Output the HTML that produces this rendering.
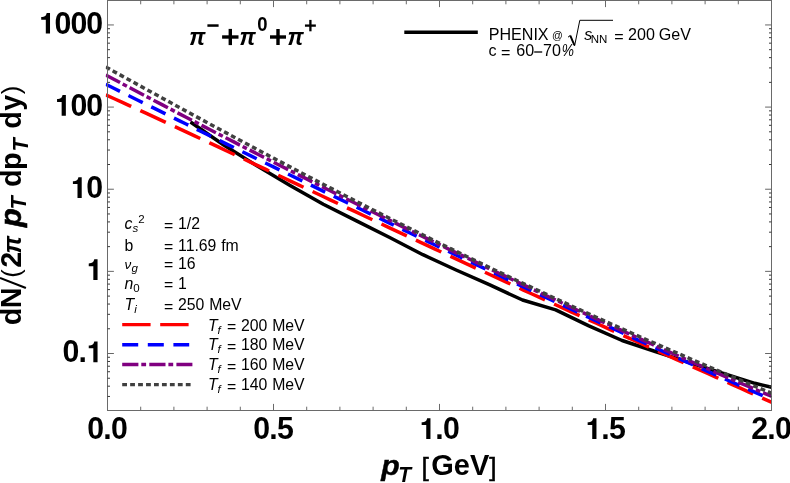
<!DOCTYPE html>
<html><head><meta charset="utf-8"><title>plot</title>
<style>html,body{margin:0;padding:0;background:#fff;}svg{display:block;will-change:transform;font-family:"Liberation Sans",sans-serif;}</style>
</head><body>
<svg width="790" height="483" viewBox="0 0 790 483">
<rect x="0" y="0" width="790" height="483" fill="#fff"/>
<defs><clipPath id="c"><rect x="105.75" y="0.5" width="666.25" height="410.0"/></clipPath></defs>
<g clip-path="url(#c)" fill="none" stroke-linejoin="round">
<path d="M190.5,122 L223.7,145 L256.9,165.8 L290.1,185.4 L323.3,204.2 L356.5,220.9 L389.7,237.5 L422.9,254.7 L456.1,270.0 L489.3,284.7 L522.5,300 L555.7,309.9 L588.9,325.8 L622.1,340.5 L655.3,351.5 L688.5,362.3 L721.7,373 L754.9,383.3 L771.5,387.3" stroke="#000" stroke-width="3.5"/>
<path d="M105.75,94.82 L113.78,98.47 L121.82,102.14 L129.85,105.82 L137.88,109.51 L145.92,113.21 L153.95,116.93 L161.98,120.65 L170.02,124.39 L178.05,128.13 L186.08,131.88 L194.11,135.64 L202.15,139.40 L210.18,143.17 L218.21,146.95 L226.25,150.73 L234.28,154.52 L242.31,158.30 L250.35,162.10 L258.38,165.89 L266.41,169.69 L274.45,173.48 L282.48,177.28 L290.51,181.08 L298.55,184.88 L306.58,188.68 L314.61,192.48 L322.64,196.28 L330.68,200.07 L338.71,203.87 L346.74,207.66 L354.78,211.45 L362.81,215.23 L370.84,219.02 L378.88,222.80 L386.91,226.57 L394.94,230.35 L402.98,234.11 L411.01,237.88 L419.04,241.64 L427.08,245.39 L435.11,249.14 L443.14,252.89 L451.17,256.62 L459.21,260.36 L467.24,264.09 L475.27,267.81 L483.31,271.53 L491.34,275.24 L499.37,278.95 L507.41,282.65 L515.44,286.35 L523.47,290.04 L531.51,293.72 L539.54,297.40 L547.57,301.08 L555.61,304.75 L563.64,308.41 L571.67,312.07 L579.70,315.72 L587.74,319.37 L595.77,323.02 L603.80,326.66 L611.84,330.30 L619.87,333.93 L627.90,337.56 L635.94,341.19 L643.97,344.81 L652.00,348.43 L660.04,352.05 L668.07,355.67 L676.10,359.28 L684.14,362.89 L692.17,366.51 L700.20,370.12 L708.23,373.73 L716.27,377.34 L724.30,380.96 L732.33,384.57 L740.37,388.19 L748.40,391.81 L756.43,395.43 L764.47,399.06 L772.50,402.69" stroke="#ff0000" stroke-width="3.5" stroke-dasharray="28.0 10.06"/>
<path d="M105.75,84.23 L113.78,88.23 L121.82,92.23 L129.85,96.22 L137.88,100.21 L145.92,104.20 L153.95,108.18 L161.98,112.15 L170.02,116.12 L178.05,120.09 L186.08,124.05 L194.11,128.01 L202.15,131.97 L210.18,135.92 L218.21,139.87 L226.25,143.81 L234.28,147.75 L242.31,151.68 L250.35,155.61 L258.38,159.54 L266.41,163.47 L274.45,167.39 L282.48,171.30 L290.51,175.22 L298.55,179.13 L306.58,183.03 L314.61,186.93 L322.64,190.83 L330.68,194.73 L338.71,198.62 L346.74,202.50 L354.78,206.39 L362.81,210.27 L370.84,214.14 L378.88,218.01 L386.91,221.88 L394.94,225.74 L402.98,229.60 L411.01,233.46 L419.04,237.31 L427.08,241.15 L435.11,244.99 L443.14,248.83 L451.17,252.66 L459.21,256.49 L467.24,260.31 L475.27,264.12 L483.31,267.93 L491.34,271.74 L499.37,275.53 L507.41,279.33 L515.44,283.11 L523.47,286.89 L531.51,290.67 L539.54,294.44 L547.57,298.20 L555.61,301.95 L563.64,305.70 L571.67,309.43 L579.70,313.17 L587.74,316.89 L595.77,320.60 L603.80,324.31 L611.84,328.01 L619.87,331.70 L627.90,335.38 L635.94,339.05 L643.97,342.71 L652.00,346.36 L660.04,350.00 L668.07,353.63 L676.10,357.25 L684.14,360.86 L692.17,364.46 L700.20,368.04 L708.23,371.61 L716.27,375.17 L724.30,378.72 L732.33,382.26 L740.37,385.78 L748.40,389.29 L756.43,392.78 L764.47,396.26 L772.50,399.72" stroke="#0000ff" stroke-width="3.5" stroke-dasharray="15.9 9.5"/>
<path d="M105.75,74.92 L113.78,79.21 L121.82,83.48 L129.85,87.74 L137.88,91.99 L145.92,96.23 L153.95,100.45 L161.98,104.67 L170.02,108.88 L178.05,113.08 L186.08,117.26 L194.11,121.44 L202.15,125.61 L210.18,129.76 L218.21,133.91 L226.25,138.05 L234.28,142.18 L242.31,146.30 L250.35,150.41 L258.38,154.51 L266.41,158.60 L274.45,162.69 L282.48,166.76 L290.51,170.83 L298.55,174.89 L306.58,178.93 L314.61,182.97 L322.64,187.00 L330.68,191.03 L338.71,195.04 L346.74,199.05 L354.78,203.04 L362.81,207.03 L370.84,211.01 L378.88,214.98 L386.91,218.94 L394.94,222.89 L402.98,226.84 L411.01,230.77 L419.04,234.70 L427.08,238.62 L435.11,242.52 L443.14,246.42 L451.17,250.31 L459.21,254.19 L467.24,258.07 L475.27,261.93 L483.31,265.78 L491.34,269.62 L499.37,273.46 L507.41,277.28 L515.44,281.09 L523.47,284.90 L531.51,288.69 L539.54,292.47 L547.57,296.24 L555.61,300.00 L563.64,303.75 L571.67,307.49 L579.70,311.22 L587.74,314.93 L595.77,318.64 L603.80,322.33 L611.84,326.01 L619.87,329.68 L627.90,333.33 L635.94,336.98 L643.97,340.60 L652.00,344.22 L660.04,347.82 L668.07,351.41 L676.10,354.99 L684.14,358.55 L692.17,362.09 L700.20,365.62 L708.23,369.14 L716.27,372.64 L724.30,376.12 L732.33,379.59 L740.37,383.04 L748.40,386.48 L756.43,389.90 L764.47,393.30 L772.50,396.68" stroke="#800080" stroke-width="3.5" stroke-dasharray="16.2 3.0 4.75 3.1"/>
<path d="M105.75,66.98 L113.78,71.42 L121.82,75.85 L129.85,80.28 L137.88,84.70 L145.92,89.12 L153.95,93.53 L161.98,97.94 L170.02,102.33 L178.05,106.72 L186.08,111.10 L194.11,115.48 L202.15,119.84 L210.18,124.20 L218.21,128.54 L226.25,132.88 L234.28,137.20 L242.31,141.52 L250.35,145.82 L258.38,150.11 L266.41,154.39 L274.45,158.66 L282.48,162.91 L290.51,167.15 L298.55,171.38 L306.58,175.60 L314.61,179.80 L322.64,183.98 L330.68,188.16 L338.71,192.32 L346.74,196.46 L354.78,200.59 L362.81,204.70 L370.84,208.80 L378.88,212.89 L386.91,216.96 L394.94,221.01 L402.98,225.05 L411.01,229.07 L419.04,233.07 L427.08,237.06 L435.11,241.03 L443.14,244.99 L451.17,248.93 L459.21,252.85 L467.24,256.76 L475.27,260.65 L483.31,264.52 L491.34,268.38 L499.37,272.22 L507.41,276.04 L515.44,279.85 L523.47,283.64 L531.51,287.41 L539.54,291.17 L547.57,294.91 L555.61,298.63 L563.64,302.34 L571.67,306.04 L579.70,309.71 L587.74,313.37 L595.77,317.02 L603.80,320.64 L611.84,324.26 L619.87,327.86 L627.90,331.44 L635.94,335.01 L643.97,338.56 L652.00,342.10 L660.04,345.62 L668.07,349.13 L676.10,352.63 L684.14,356.11 L692.17,359.58 L700.20,363.04 L708.23,366.48 L716.27,369.91 L724.30,373.33 L732.33,376.74 L740.37,380.13 L748.40,383.52 L756.43,386.89 L764.47,390.26 L772.50,393.61" stroke="#404040" stroke-width="3.5" stroke-dasharray="4.8 3.135"/>
</g>
<g stroke="#6a6a6a" stroke-width="1" fill="none">
<rect x="107.5" y="0.5" width="664.0" height="410.0"/>
<path d="M107.50,410.5v-6.6M107.50,0.5v6.6M140.70,410.5v-3.8M140.70,0.5v3.8M173.90,410.5v-3.8M173.90,0.5v3.8M207.10,410.5v-3.8M207.10,0.5v3.8M240.30,410.5v-3.8M240.30,0.5v3.8M273.50,410.5v-6.6M273.50,0.5v6.6M306.70,410.5v-3.8M306.70,0.5v3.8M339.90,410.5v-3.8M339.90,0.5v3.8M373.10,410.5v-3.8M373.10,0.5v3.8M406.30,410.5v-3.8M406.30,0.5v3.8M439.50,410.5v-6.6M439.50,0.5v6.6M472.70,410.5v-3.8M472.70,0.5v3.8M505.90,410.5v-3.8M505.90,0.5v3.8M539.10,410.5v-3.8M539.10,0.5v3.8M572.30,410.5v-3.8M572.30,0.5v3.8M605.50,410.5v-6.6M605.50,0.5v6.6M638.70,410.5v-3.8M638.70,0.5v3.8M671.90,410.5v-3.8M671.90,0.5v3.8M705.10,410.5v-3.8M705.10,0.5v3.8M738.30,410.5v-3.8M738.30,0.5v3.8M771.50,410.5v-6.6M771.50,0.5v6.6"/>
<path d="M107.5,396.46h2.5M771.5,396.46h-2.5M107.5,386.20h2.5M771.5,386.20h-2.5M107.5,378.24h2.5M771.5,378.24h-2.5M107.5,371.73h2.5M771.5,371.73h-2.5M107.5,366.23h2.5M771.5,366.23h-2.5M107.5,361.47h2.5M771.5,361.47h-2.5M107.5,357.27h2.5M771.5,357.27h-2.5M107.5,328.78h2.5M771.5,328.78h-2.5M107.5,314.32h2.5M771.5,314.32h-2.5M107.5,304.06h2.5M771.5,304.06h-2.5M107.5,296.10h2.5M771.5,296.10h-2.5M107.5,289.59h2.5M771.5,289.59h-2.5M107.5,284.09h2.5M771.5,284.09h-2.5M107.5,279.33h2.5M771.5,279.33h-2.5M107.5,275.13h2.5M771.5,275.13h-2.5M107.5,246.64h2.5M771.5,246.64h-2.5M107.5,232.18h2.5M771.5,232.18h-2.5M107.5,221.92h2.5M771.5,221.92h-2.5M107.5,213.96h2.5M771.5,213.96h-2.5M107.5,207.45h2.5M771.5,207.45h-2.5M107.5,201.95h2.5M771.5,201.95h-2.5M107.5,197.19h2.5M771.5,197.19h-2.5M107.5,192.99h2.5M771.5,192.99h-2.5M107.5,164.50h2.5M771.5,164.50h-2.5M107.5,150.04h2.5M771.5,150.04h-2.5M107.5,139.78h2.5M771.5,139.78h-2.5M107.5,131.82h2.5M771.5,131.82h-2.5M107.5,125.31h2.5M771.5,125.31h-2.5M107.5,119.81h2.5M771.5,119.81h-2.5M107.5,115.05h2.5M771.5,115.05h-2.5M107.5,110.85h2.5M771.5,110.85h-2.5M107.5,82.36h2.5M771.5,82.36h-2.5M107.5,67.90h2.5M771.5,67.90h-2.5M107.5,57.64h2.5M771.5,57.64h-2.5M107.5,49.68h2.5M771.5,49.68h-2.5M107.5,43.17h2.5M771.5,43.17h-2.5M107.5,37.67h2.5M771.5,37.67h-2.5M107.5,32.91h2.5M771.5,32.91h-2.5M107.5,28.71h2.5M771.5,28.71h-2.5" stroke="#3a3a3a"/>
<path d="M107.5,353.51h6.4M771.5,353.51h-6.4M107.5,271.37h6.4M771.5,271.37h-6.4M107.5,189.23h6.4M771.5,189.23h-6.4M107.5,107.09h6.4M771.5,107.09h-6.4M107.5,24.95h6.4M771.5,24.95h-6.4" stroke="#666"/>
</g>
<g font-weight="bold" font-size="30.3" fill="#000">
<g transform="translate(0,33.60) scale(1,1.025) translate(0,-33.60)"><path transform="translate(39.25,33.60) scale(0.0285,0.0284)" d="M378,0 L378,-710 L262,-710 C250,-640 220,-602 150,-582 C120,-574 92,-571 69,-571 L69,-476 L230,-476 L230,0 Z"/><text x="63.01" y="33.60" text-anchor="middle">0</text><text x="78.86" y="33.60" text-anchor="middle">0</text><text x="94.71" y="33.60" text-anchor="middle">0</text></g>
<g transform="translate(0,115.74) scale(1,1.025) translate(0,-115.74)"><path transform="translate(55.09,115.74) scale(0.0285,0.0284)" d="M378,0 L378,-710 L262,-710 C250,-640 220,-602 150,-582 C120,-574 92,-571 69,-571 L69,-476 L230,-476 L230,0 Z"/><text x="78.86" y="115.74" text-anchor="middle">0</text><text x="94.71" y="115.74" text-anchor="middle">0</text></g>
<g transform="translate(0,197.88) scale(1,1.025) translate(0,-197.88)"><path transform="translate(70.94,197.88) scale(0.0285,0.0284)" d="M378,0 L378,-710 L262,-710 C250,-640 220,-602 150,-582 C120,-574 92,-571 69,-571 L69,-476 L230,-476 L230,0 Z"/><text x="94.71" y="197.88" text-anchor="middle">0</text></g>
<g transform="translate(0,280.02) scale(1,1.025) translate(0,-280.02)"><path transform="translate(86.78,280.02) scale(0.0285,0.0284)" d="M378,0 L378,-710 L262,-710 C250,-640 220,-602 150,-582 C120,-574 92,-571 69,-571 L69,-476 L230,-476 L230,0 Z"/></g>
<g transform="translate(0,362.16) scale(1,1.025) translate(0,-362.16)"><text x="70.94" y="362.16" text-anchor="middle">0</text><text x="82.82" y="362.16" text-anchor="middle">.</text><path transform="translate(86.78,362.16) scale(0.0285,0.0284)" d="M378,0 L378,-710 L262,-710 C250,-640 220,-602 150,-582 C120,-574 92,-571 69,-571 L69,-476 L230,-476 L230,0 Z"/></g>
<g transform="translate(0,438.90) scale(1,1.025) translate(0,-438.90)"><text x="95.62" y="438.90" text-anchor="middle">0</text><text x="107.50" y="438.90" text-anchor="middle">.</text><text x="119.38" y="438.90" text-anchor="middle">0</text></g>
<g transform="translate(0,438.90) scale(1,1.025) translate(0,-438.90)"><text x="261.62" y="438.90" text-anchor="middle">0</text><text x="273.50" y="438.90" text-anchor="middle">.</text><text x="285.38" y="438.90" text-anchor="middle">5</text></g>
<g transform="translate(0,438.90) scale(1,1.025) translate(0,-438.90)"><path transform="translate(419.69,438.90) scale(0.0285,0.0284)" d="M378,0 L378,-710 L262,-710 C250,-640 220,-602 150,-582 C120,-574 92,-571 69,-571 L69,-476 L230,-476 L230,0 Z"/><text x="439.50" y="438.90" text-anchor="middle">.</text><text x="451.38" y="438.90" text-anchor="middle">0</text></g>
<g transform="translate(0,438.90) scale(1,1.025) translate(0,-438.90)"><path transform="translate(585.69,438.90) scale(0.0285,0.0284)" d="M378,0 L378,-710 L262,-710 C250,-640 220,-602 150,-582 C120,-574 92,-571 69,-571 L69,-476 L230,-476 L230,0 Z"/><text x="605.50" y="438.90" text-anchor="middle">.</text><text x="617.38" y="438.90" text-anchor="middle">5</text></g>
<g transform="translate(0,438.90) scale(1,1.025) translate(0,-438.90)"><text x="759.62" y="438.90" text-anchor="middle">2</text><text x="771.50" y="438.90" text-anchor="middle">.</text><text x="783.38" y="438.90" text-anchor="middle">0</text></g>
</g>
<g font-weight="bold" fill="#000">
<text transform="translate(189.2,45.0) scale(0.92,1)" font-size="24.8" font-style="italic">π</text>
<text transform="translate(239.6,45.0) scale(0.92,1)" font-size="24.8" font-style="italic">π</text>
<text transform="translate(287.4,45.0) scale(0.92,1)" font-size="24.8" font-style="italic">π</text>
<rect x="207.4" y="24.3" width="11.2" height="2.5"/>
<rect x="222.10" y="35.30" width="16.40" height="3.40" fill="#000"/><rect x="228.60" y="28.90" width="3.40" height="16.20" fill="#000"/>
<rect x="270.00" y="35.30" width="16.00" height="3.40" fill="#000"/><rect x="276.30" y="29.00" width="3.40" height="16.00" fill="#000"/>
<text transform="translate(257.3,30.5) scale(0.88,1)" font-size="21">0</text>
<rect x="304.95" y="24.45" width="10.90" height="2.30" fill="#000"/><rect x="309.25" y="19.90" width="2.30" height="11.40" fill="#000"/>
</g>
<path d="M404.3,32.35H477.8" stroke="#000" stroke-width="3.5" fill="none"/>
<g font-size="16.1" fill="#000">
<text x="488.7" y="40.0">PHENIX</text>
<text x="552.0" y="38.9" font-size="10.6">@</text>
<path d="M568,37.2 l2.2,-1.7 l4.4,10.3 l5.2,-25.5 H613" stroke="#000" stroke-width="1" fill="none" stroke-linejoin="miter"/>
<path d="M570.3,35.6 l4.1,9.6" stroke="#000" stroke-width="1.9" fill="none"/>
<text x="584.3" y="40.0" font-style="italic">s</text>
<text x="590.8" y="42.7" font-size="11.5">NN</text>
<text x="614.3" y="41.6">=</text>
<text x="628.1" y="40.0">200</text>
<text x="658.8" y="40.0">GeV</text>
<text x="488.4" y="56.3">c <tspan dy="1.6">=</tspan></text>
<text x="516.25" y="56.3">60</text>
<rect x="534.2" y="51.35" width="8.0" height="1.3" fill="#000"/>
<text x="543.0" y="56.3">70</text>
<text transform="translate(561.8,56.3) scale(0.88,1)" font-style="italic" font-size="15.6">%</text>
</g>
<g font-size="15.8" fill="#000" word-spacing="0.4">
<text x="124.5" y="229.4"><tspan font-style="italic">c</tspan><tspan font-style="italic" font-size="11.5" dy="3">s</tspan><tspan font-size="11.5" dy="-9.5" dx="0.2">2</tspan></text>
<text x="164.0" y="229.4"><tspan dy="1.6">=</tspan><tspan dy="-1.6"> 1/2</tspan></text>
<text x="124.5" y="250.8">b</text>
<text x="164.0" y="250.8"><tspan dy="1.6">=</tspan><tspan dy="-1.6"> 11.69 fm</tspan></text>
<text x="124.5" y="268.7"><tspan font-style="italic" font-size="13.5">ν</tspan><tspan font-style="italic" font-size="11.5" dy="3" dx="0.3">g</tspan></text>
<text x="164.0" y="268.7"><tspan dy="1.6">=</tspan><tspan dy="-1.6"> 16</tspan></text>
<text x="124.5" y="288.5"><tspan font-style="italic">n</tspan><tspan font-size="11.5" dy="3">0</tspan></text>
<text x="164.0" y="288.5"><tspan dy="1.6">=</tspan><tspan dy="-1.6"> 1</tspan></text>
<text x="124.5" y="310.1"><tspan font-style="italic">T</tspan><tspan font-style="italic" font-size="11.5" dy="3">i</tspan></text>
<text x="164.0" y="310.1"><tspan dy="1.6">=</tspan><tspan dy="-1.6"> 250 MeV</tspan></text>
<text x="207.9" y="330.6"><tspan font-style="italic">T</tspan><tspan font-style="italic" font-size="11.5" dy="3">f</tspan></text>
<text x="227.0" y="330.6"><tspan dy="1.6">=</tspan><tspan dy="-1.6"> 200 MeV</tspan></text>
<text x="207.9" y="350.3"><tspan font-style="italic">T</tspan><tspan font-style="italic" font-size="11.5" dy="3">f</tspan></text>
<text x="227.0" y="350.3"><tspan dy="1.6">=</tspan><tspan dy="-1.6"> 180 MeV</tspan></text>
<text x="207.9" y="370.3"><tspan font-style="italic">T</tspan><tspan font-style="italic" font-size="11.5" dy="3">f</tspan></text>
<text x="227.0" y="370.3"><tspan dy="1.6">=</tspan><tspan dy="-1.6"> 160 MeV</tspan></text>
<text x="207.9" y="389.9"><tspan font-style="italic">T</tspan><tspan font-style="italic" font-size="11.5" dy="3">f</tspan></text>
<text x="227.0" y="389.9"><tspan dy="1.6">=</tspan><tspan dy="-1.6"> 140 MeV</tspan></text>
</g>
<g fill="none" stroke-width="3.4">
<path d="M122.2,324.6H189.2" stroke="#ff0000" stroke-dasharray="28.4 9.6"/>
<path d="M122.2,344.8H189.2" stroke="#0000ff" stroke-dasharray="16 9.6"/>
<path d="M122.2,364.5H192.4" stroke="#800080" stroke-dasharray="16.2 2.9 4.8 3.2"/>
<path d="M122.2,384.6H190.6" stroke="#404040" stroke-dasharray="4.8 3.15"/>
</g>
<g transform="translate(20.7,324.1) rotate(-90) scale(1,1.04)" fill="#000">
<text transform="translate(-1.18,0.00) scale(1.0,1)" font-size="28.8" font-weight="bold">d</text>
<text transform="translate(15.87,0.00) scale(1.0,1)" font-size="28.8" font-weight="bold">N</text>
<text transform="translate(46.32,-1.00) scale(1.0,1)" font-size="25.5" font-weight="normal">(</text>
<text transform="translate(56.40,0.00) scale(1.0,1)" font-size="28.8" font-weight="bold">2</text>
<text transform="translate(70.69,0.00) scale(1.0,1)" font-size="24.9" font-weight="bold" font-style="italic">π</text>
<text transform="translate(97.07,0.00) scale(1.07,1)" font-size="28.5" font-weight="bold" font-style="italic" stroke="#000" stroke-width="0.6">p</text>
<text transform="translate(114.48,5.20) scale(1.0,1)" font-size="21.5" font-weight="bold" font-style="italic">T</text>
<text transform="translate(137.02,0.00) scale(1.0,1)" font-size="28.8" font-weight="bold">d</text>
<text transform="translate(154.10,0.00) scale(1.0,1)" font-size="28.8" font-weight="bold">p</text>
<text transform="translate(172.68,7.00) scale(1.0,1)" font-size="21.5" font-weight="bold" font-style="italic">T</text>
<text transform="translate(195.32,0.00) scale(1.0,1)" font-size="28.8" font-weight="bold">d</text>
<text transform="translate(213.38,0.00) scale(1.0,1)" font-size="28.8" font-weight="bold">y</text>
<text transform="translate(229.95,-1.00) scale(1.0,1)" font-size="25.5" font-weight="normal">)</text>
<path d="M36.1,5 L46.1,-19.9" stroke="#000" stroke-width="2" fill="none"/>
</g>
<g font-weight="bold" fill="#000" font-size="29">
<text transform="translate(381.2,475.0) scale(1.1,1.0)" font-style="italic" font-size="27.5" stroke="#000" stroke-width="0.4">p</text>
<text transform="translate(398.2,482.3) scale(1,1.03)" font-style="italic" font-size="21">T</text>
<text x="421.6" y="475.6" font-size="26.3" font-weight="normal" stroke="#000" stroke-width="0.5">[</text>
<text transform="translate(431.3,475.0) scale(1,1.03)">GeV</text>
<text x="489.3" y="475.6" font-size="26.3" font-weight="normal" stroke="#000" stroke-width="0.5">]</text>
</g>
</svg></body></html>
